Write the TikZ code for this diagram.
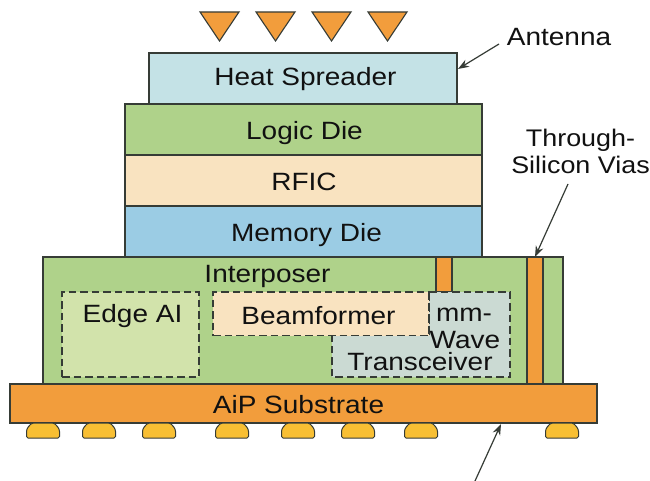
\documentclass[tikz,border=0pt]{standalone}
\usepackage{fontspec}
\setmainfont[FakeStretch=1.12]{Liberation Sans}
\definecolor{grn}{HTML}{AFD28A}
\definecolor{org}{HTML}{F29D3C}
\definecolor{crm}{HTML}{F9E3C0}
\definecolor{blu}{HTML}{9BCCE4}
\definecolor{teal}{HTML}{C4E2E6}
\definecolor{lgrn}{HTML}{D2E3AB}
\definecolor{gry}{HTML}{CBDAD3}
\definecolor{ball}{HTML}{F8BF33}
\definecolor{ink}{HTML}{363C36}
\definecolor{txt}{HTML}{111111}
\tikzset{
  layer/.style={draw=ink,line width=1.1pt,inner sep=0pt,outer sep=0pt,anchor=north west},
  lbl/.style={text=txt,font=\fontsize{25}{28.5}\selectfont,inner sep=0pt},
  zone/.style={draw=ink,line width=1.25pt,dash pattern=on 7.5pt off 4pt},
  ptr/.style={draw=ink,line width=1.2pt,-{Stealth[length=11pt,width=8pt]}}
}
\usetikzlibrary{arrows.meta}
\begin{document}
\begin{tikzpicture}[x=1pt,y=-1pt]
\path[use as bounding box,fill=white] (0,0) rectangle (650,481);
% antenna elements
\foreach \n/\a in {1/200,2/256,3/312,4/368}
  \draw[fill=org,draw=ink,line width=1.1pt,line join=miter] (\a,12) -- (\a+39,12) -- (\a+19.5,41) -- cycle;
% stack
\node[layer,fill=teal,minimum width=308pt,minimum height=51pt] (heat) at (149,53) {};
\node[layer,fill=grn,minimum width=357pt,minimum height=51pt] (logic) at (125,104) {};
\node[layer,fill=crm,minimum width=357pt,minimum height=51pt] (rfic) at (125,155) {};
\node[layer,fill=blu,minimum width=357pt,minimum height=51pt] (mem) at (125,206) {};
\node[layer,fill=grn,minimum width=520pt,minimum height=127pt] (inter) at (43,257) {};
\node[layer,fill=org,minimum width=16pt,minimum height=35pt] (via1) at (436,257) {};
\node[layer,fill=org,minimum width=16pt,minimum height=127pt] (via2) at (527,257) {};
% zones
\node[layer,zone,fill=lgrn,minimum width=137pt,minimum height=85pt] (edge) at (62,292) {};
\draw[zone,fill=gry] (429,292) -- (510,292) -- (510,377) -- (332,377) -- (332,335.5) -- (429,335.5) -- cycle;
\node[layer,zone,fill=crm,minimum width=216pt,minimum height=43.5pt] (beam) at (213,292) {};
\draw[zone] (429,292) -- (429,335.5);
% substrate
\node[layer,fill=org,minimum width=587pt,minimum height=39pt] (sub) at (10,384) {};
% solder balls
\foreach \c in {43,99,159,232,298,358,421,562}
  \draw[fill=ball,draw=ink,line width=1pt,rounded corners=1.5pt]
    (\c-16.5,438) -- (\c-16.5,433) .. controls (\c-16.5,428) and (\c-13,425) .. (\c-11,423)
    -- (\c+11,423) .. controls (\c+13,425) and (\c+16.5,428) .. (\c+16.5,433) -- (\c+16.5,438) -- cycle;
% labels
\node[lbl] (t1) at (305.5,79) {Heat Spreader};
\node[lbl] (t2) at (304.5,133) {Logic Die};
\node[lbl] (t3) at (304,182) {RFIC};
\node[lbl] (t4) at (306.5,235) {Memory Die};
\node[lbl] (t5) at (267.5,276) {Interposer};
\node[lbl] (t6) at (132.5,316) {Edge AI};
\node[lbl] (t7) at (318.5,316) {Beamformer};
\node[lbl] (t8) at (464,315) {mm-};
\node[lbl] (t9) at (465,340) {Wave};
\node[lbl] (t10) at (420,362) {Transceiver};
\node[lbl] (t11) at (298.5,405) {AiP Substrate};
\node[lbl] (ant) at (559,37) {Antenna};
\node[lbl,align=center,font=\fontsize{24}{27.5}\selectfont] (tsv) at (580.5,151.5) {Through-\\Silicon Vias};
% pointers
\coordinate (a1) at (499,44);
\coordinate (a2) at (458,69);
\coordinate (b1) at (568,184);
\coordinate (b2) at (535,257);
\coordinate (c1) at (475,481);
\coordinate (c2) at (501,424);
\draw[ptr] (a1) -- (a2);
\draw[ptr] (b1) -- (b2);
\draw[ptr] (c1) -- (c2);
\end{tikzpicture}
\end{document}
